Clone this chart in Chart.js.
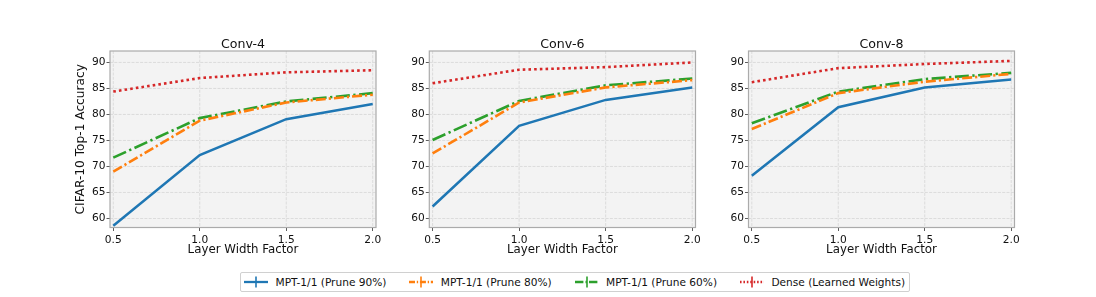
<!DOCTYPE html>
<html>
<head>
<meta charset="utf-8">
<script src="https://cdn.jsdelivr.net/npm/chart.js@4"></script>
<style>
  html, body { margin: 0; padding: 0; background: #ffffff; }
  body { width: 1096px; height: 297px; position: relative; overflow: hidden; font-family: "DejaVu Sans", sans-serif; }
  .panel { position: absolute; top: 0; }
  #legend { position: absolute; left: 240px; top: 272px; width: 668px; height: 18px; border: 1px solid #d0d0d0; border-radius: 2px; background: #fff; }
  .item { position: absolute; top: 0; height: 18px; }
  .item svg { position: absolute; top: 2px; left: 0; }
  .item span { position: absolute; top: 2px; white-space: nowrap; font-size: 10.6px; color: #111; line-height: 14px; }
</style>
</head>
<body>
<div class="panel" style="left:74px"><canvas id="c0" width="316" height="262"></canvas></div>
<div class="panel" style="left:400px"><canvas id="c1" width="309" height="262"></canvas></div>
<div class="panel" style="left:719px"><canvas id="c2" width="310" height="262"></canvas></div>
<div id="legend"></div>
<script>
// ---- data ----
const widthFactors = [0.5, 1.0, 1.5, 2.0];
const panelTitles = ['Conv-4', 'Conv-6', 'Conv-8'];
const seriesLabels = ['MPT-1/1 (Prune 90%)', 'MPT-1/1 (Prune 80%)', 'MPT-1/1 (Prune 60%)', 'Dense (Learned Weights)'];

const conv4Prune90 = [58.6, 72.2, 79.1, 82.0];
const conv4Prune80 = [69.0, 78.8, 82.3, 83.8];
const conv4Prune60 = [71.7, 79.3, 82.5, 84.1];
const conv4Dense   = [84.4, 87.0, 88.1, 88.5];

const conv6Prune90 = [62.3, 77.8, 82.8, 85.2];
const conv6Prune80 = [72.5, 82.3, 85.2, 86.6];
const conv6Prune60 = [75.1, 82.6, 85.6, 86.9];
const conv6Dense   = [86.0, 88.6, 89.1, 90.0];

const conv8Prune90 = [68.2, 81.4, 85.2, 86.7];
const conv8Prune80 = [77.2, 84.1, 86.3, 87.8];
const conv8Prune60 = [78.3, 84.4, 86.8, 88.0];
const conv8Dense   = [86.2, 88.9, 89.7, 90.3];

const xTicks = [0.5, 1.0, 1.5, 2.0];
const yTicks = [60, 65, 70, 75, 80, 85, 90];
const xAxisTitle = 'Layer Width Factor';
const yAxisTitle = 'CIFAR-10 Top-1 Accuracy';

const panelSeries = [
  [conv4Prune90, conv4Prune80, conv4Prune60, conv4Dense],
  [conv6Prune90, conv6Prune80, conv6Prune60, conv6Dense],
  [conv8Prune90, conv8Prune80, conv8Prune60, conv8Dense]
];

// ---- styles ----
const colors = ['#1f77b4', '#ff7f0e', '#2ca02c', '#d62728'];
const dashes = [[], [10, 3, 2.2, 3], [14, 3.5, 2.3, 3.5], [2.6, 3.1]];
const widths = [2.5, 2.6, 2.6, 2.6];
const FONT = '"DejaVu Sans", sans-serif';
const TXT = '#111111';

const bgPlugin = {
  id: 'plotBg',
  beforeDraw(chart) {
    const a = chart.chartArea, ctx = chart.ctx;
    ctx.save();
    ctx.fillStyle = '#f3f3f3';
    ctx.fillRect(a.left, a.top, a.right - a.left, a.bottom - a.top);
    // dashed grid through the scales
    ctx.strokeStyle = '#d6d6d6';
    ctx.lineWidth = 0.8;
    ctx.setLineDash([3, 1.3]);
    const xs = chart.scales.x, ys = chart.scales.y;
    xs.ticks.forEach(t => {
      const px = xs.getPixelForValue(t.value);
      ctx.beginPath(); ctx.moveTo(px, a.top); ctx.lineTo(px, a.bottom); ctx.stroke();
    });
    ys.ticks.forEach(t => {
      const py = ys.getPixelForValue(t.value);
      ctx.beginPath(); ctx.moveTo(a.left, py); ctx.lineTo(a.right, py); ctx.stroke();
    });
    ctx.restore();
  },
  afterDraw(chart) {
    const a = chart.chartArea, ctx = chart.ctx;
    ctx.save();
    ctx.strokeStyle = '#ababab';
    ctx.lineWidth = 1.2;
    ctx.strokeRect(a.left, a.top, a.right - a.left, a.bottom - a.top);
    // panel title centred over the plot area
    const t = chart.options.plugins.panelTitle.text;
    ctx.fillStyle = TXT;
    ctx.font = '12.6px ' + FONT;
    ctx.textAlign = 'center';
    ctx.textBaseline = 'middle';
    ctx.fillText(t, (a.left + a.right) / 2, 44.5);
    ctx.restore();
  }
};

const geom = [
  { yWidth: 36, padRight: 14 },
  { yWidth: 29.3, padRight: 13.5 },
  { yWidth: 29.5, padRight: 14.5 }
];

panelTitles.forEach((title, p) => {
  const ctx = document.getElementById('c' + p);
  const H = 262;
  const plotBottom = 227.5;
  new Chart(ctx, {
    type: 'line',
    data: {
      datasets: panelSeries[p].map((vals, i) => ({
        label: seriesLabels[i],
        data: widthFactors.map((x, k) => ({ x: x, y: vals[k] })),
        borderColor: colors[i],
        backgroundColor: colors[i],
        borderWidth: widths[i],
        borderDash: dashes[i],
        borderCapStyle: 'butt',
        pointRadius: 0,
        tension: 0,
        fill: false
      }))
    },
    options: {
      responsive: false,
      animation: false,
      devicePixelRatio: 1,
      layout: { padding: { left: 0, right: geom[p].padRight, top: 51, bottom: 0 } },
      plugins: {
        legend: { display: false },
        tooltip: { enabled: false },
        title: { display: false },
        panelTitle: { text: title }
      },
      scales: {
        x: {
          type: 'linear',
          min: 0.481,
          max: 2.019,
          afterBuildTicks: s => { s.ticks = xTicks.map(v => ({ value: v })); },
          afterFit: s => { s.height = H - plotBottom; },
          ticks: {
            color: TXT,
            font: { family: FONT, size: 10.6 },
            padding: 2.5,
            maxRotation: 0,
            autoSkip: false,
            callback: v => Number(v).toFixed(1)
          },
          grid: { drawOnChartArea: false, drawTicks: true, tickLength: 3.5, color: '#333333', lineWidth: 0.8 },
          border: { display: false },
          title: {
            display: true,
            text: xAxisTitle,
            color: TXT,
            font: { family: FONT, size: 11.8 },
            padding: { top: 0, bottom: 4.6 }
          }
        },
        y: {
          type: 'linear',
          min: 58.27,
          max: 92.2,
          afterBuildTicks: s => { s.ticks = yTicks.map(v => ({ value: v })); },
          afterFit: s => { s.width = geom[p].yWidth; },
          ticks: {
            color: TXT,
            font: { family: FONT, size: 10.6 },
            padding: 1,
            autoSkip: false,
            callback: v => String(v)
          },
          grid: { drawOnChartArea: false, drawTicks: true, tickLength: 3.5, color: '#333333', lineWidth: 0.8 },
          border: { display: false },
          title: {
            display: p === 0,
            text: yAxisTitle,
            color: TXT,
            font: { family: FONT, size: 12.2 },
            padding: { top: 0, bottom: 0 }
          }
        }
      }
    },
    plugins: [bgPlugin]
  });
});

// ---- legend (HTML) ----
const legend = document.getElementById('legend');
seriesLabels.forEach((lab, i) => {
  const left = 3 + 165.3 * i;
  const div = document.createElement('div');
  div.className = 'item';
  div.style.left = left + 'px';
  const dashAttr = dashes[i].length ? ` stroke-dasharray="${dashes[i].map(d => d * 0.6).join(',')}"` : '';
  div.innerHTML =
    `<svg width="26" height="14" xmlns="http://www.w3.org/2000/svg">` +
    `<line x1="0" y1="7" x2="24" y2="7" stroke="${colors[i]}" stroke-width="2.3"${dashAttr}/>` +
    `<line x1="12" y1="1.5" x2="12" y2="12.5" stroke="${colors[i]}" stroke-width="1.6"/>` +
    `</svg><span style="left:${31.5}px">${lab}</span>`;
  legend.appendChild(div);
});
</script>
</body>
</html>
